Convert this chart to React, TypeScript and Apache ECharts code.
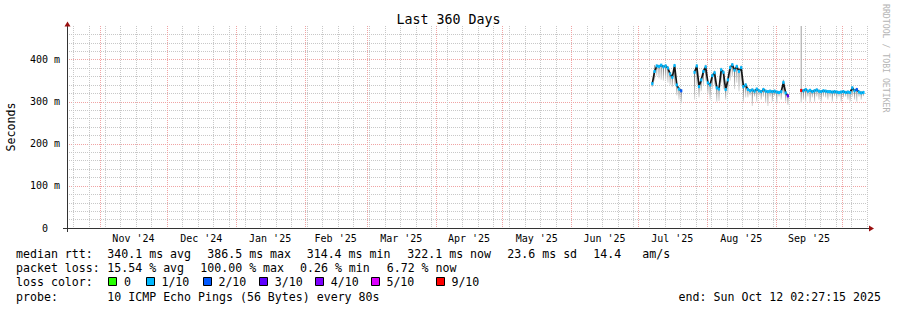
import React, { useEffect, useRef } from 'react';
import * as echarts from 'echarts';

const MONO = '"DejaVu Sans Mono", monospace';
const DAY = 86400000;
const START = Date.UTC(2024, 9, 17, 2, 27, 15);
const END = Date.UTC(2025, 9, 12, 2, 27, 15);
const FIRST_DAY = Date.UTC(2025, 6, 7, 12); // first data bin (Jul 7 2025), one bin per day

const MONTH_NAMES = ['Jan', 'Feb', 'Mar', 'Apr', 'May', 'Jun', 'Jul', 'Aug', 'Sep', 'Oct', 'Nov', 'Dec'];

// median rtt (ms) per day, null = no data
const medianMs: (number | null)[] = [
  343, 372, 385, 384, 387, 383, 385, 380, 366, 358, 386, 340, 330, 326,
  null, null, null, null, null,
  370, 385, 336, 352, 372, 383, 345, 340, 362, 369, 333, 330, 376, 370, 329, 352, 381, 388, 375, 384,
  372, 381, 336, 340, 329, 326, 328, 325, 330, 326, 324, 329, 325, 324, 325, 324, 325, 323, 322, 324,
  346, 321, 314,
  null, null, null, null, null,
  327, 326, 329, 325, 327, 324, 326, 328, 325, 324, 326, 325, 324, 324, 323, 324, 323, 322, 323, 324,
  322, 323, 322, 333, 326, 329, 323, 321, 322,
];

// smoke: lowest ping (ms)
const smokeLowMs: (number | null)[] = [
  335, 350, 362, 355, 352, 350, 352, 345, 340, 335, 340, 315, 305, 296,
  null, null, null, null, null,
  305, 340, 310, 325, 340, 350, 318, 305, 330, 340, 300, 302, 345, 330, 305, 320, 350, 360, 330, 345,
  325, 340, 300, 310, 310, 315, 290, 312, 300, 314, 305, 312, 298, 290, 312, 300, 314, 296, 312, 305,
  318, 300, 292,
  null, null, null, null, null,
  297, 305, 300, 312, 298, 310, 300, 312, 305, 300, 312, 310, 305, 312, 300, 313, 305, 312, 300, 310,
  312, 305, 300, 312, 305, 300, 312, 305, 313,
];

// smoke: highest ping (ms)
const smokeHighMs: (number | null)[] = [
  347, 387, 389, 388, 390, 387, 389, 384, 370, 362, 390, 344, 334, 330,
  null, null, null, null, null,
  375, 390, 341, 357, 377, 388, 350, 345, 367, 374, 338, 335, 381, 375, 334, 357, 386, 392, 380, 388,
  377, 386, 341, 344, 333, 330, 332, 329, 334, 330, 328, 333, 329, 328, 329, 328, 329, 327, 326, 328,
  352, 325, 318,
  null, null, null, null, null,
  480, 330, 333, 329, 331, 328, 330, 332, 329, 328, 330, 329, 328, 328, 327, 328, 327, 326, 327, 328,
  326, 327, 326, 337, 330, 333, 327, 325, 326,
];

// packet loss in tenths
const lossTenths: (number | null)[] = [
  1, 1, 1, 1, 1, 1, 1, 1, 1, 1, 1, 1, 1, 2,
  null, null, null, null, null,
  1, 1, 1, 1, 1, 1, 1, 1, 1, 1, 1, 1, 1, 1, 1, 1, 1, 1, 1, 1,
  1, 1, 1, 1, 1, 1, 1, 1, 1, 1, 1, 1, 1, 1, 1, 1, 1, 1, 1, 1,
  1, 1, 3,
  null, null, null, null, null,
  9, 1, 1, 1, 1, 1, 1, 1, 1, 1, 1, 1, 1, 1, 1, 1, 1, 1, 1, 1,
  1, 1, 1, 1, 1, 2, 1, 1, 1,
];

const lossLevels = ['0', '1/10', '2/10', '3/10', '4/10', '5/10', '9/10'];
const lossLevelValues = [0, 1, 2, 3, 4, 5, 9];
const lossColors: Record<number, string> = {
  0: '#26ff00', 1: '#00b8ff', 2: '#0059ff', 3: '#5e00ff', 4: '#7e00ff', 5: '#dd00ff', 9: '#ff0000',
};

const yTicks = [0, 100, 200, 300, 400];

const statsMedian = ['340.1 ms avg', '386.5 ms max', '314.4 ms min', '322.1 ms now', '23.6 ms sd', '14.4', 'am/s'];
const statsLoss = ['15.54 % avg', '100.00 % max', '0.26 % min', '6.72 % now'];
const probeText = '10 ICMP Echo Pings (56 Bytes) every 80s';
const endText = 'end: Sun Oct 12 02:27:15 2025';

const GRID_GRAY = '#c8c8c8';
const GRID_RED = '#f0a4a4';

function buildOption() {
  const dayTimes = medianMs.map((_, i) => FIRST_DAY + i * DAY);

  // calendar grid
  const gridLines: number[][] = [];
  for (let t = Date.UTC(2024, 9, 18); t <= END; t += DAY) {
    if (new Date(t).getUTCDay() === 0) gridLines.push([t, 0]);
  }
  const monthLabels: string[] = [];
  const monthMid: number[][] = [];
  for (let k = 0; k < 13; k++) {
    const y = 2024 + Math.floor((9 + k) / 12);
    const m = (9 + k) % 12;
    const s = Date.UTC(y, m, 1);
    const e = Date.UTC(m === 11 ? y + 1 : y, (m + 1) % 12, 1);
    if (s > START && s < END) gridLines.push([s, 1]);
    const mid = (s + e) / 2;
    if (mid > START && mid < END) {
      monthMid.push([mid, 0]);
      monthLabels.push(`${MONTH_NAMES[m]} '${String(y).slice(2)}`);
    }
  }

  const smokeData: number[][] = [];
  const tickData: number[][] = [];
  const lineData: any[] = [];
  dayTimes.forEach((t, i) => {
    const md = medianMs[i];
    if (md == null) {
      lineData.push([t, '-']);
      return;
    }
    smokeData.push([t, smokeLowMs[i] as number, md, smokeHighMs[i] as number]);
    tickData.push([t, md, lossTenths[i] as number]);
    lineData.push([t, md]);
  });

  const font = (s: number) => `${s}px ${MONO}`;
  const graphic: any[] = [];
  const txt = (x: number, y: number, text: string, size = 11.6, align = 'left', fill = '#000') =>
    graphic.push({ type: 'text', x, y, silent: true, style: { text, font: font(size), fill, align, verticalAlign: 'middle' } });

  txt(448.5, 19, 'Last 360 Days', 13.3, 'center');
  graphic.push({
    type: 'text', x: 886, y: 4, rotation: -Math.PI / 2, silent: true,
    style: { text: 'RRDTOOL / TOBI OETIKER', font: font(8.2), fill: '#b4b4b4', align: 'left', verticalAlign: 'middle' },
  });
  graphic.push({
    type: 'text', x: 11, y: 127, rotation: Math.PI / 2, silent: true,
    style: { text: 'Seconds', font: font(11.6), fill: '#000', align: 'center', verticalAlign: 'middle' },
  });

  const medX = [107.3, 207.3, 306.7, 407.3, 507.3, 593.3, 642.3];
  txt(16, 254, 'median rtt:');
  statsMedian.forEach((s, i) => txt(medX[i], 254, s));
  const lossX = [107.3, 200.3, 300, 386.7];
  txt(16, 268.3, 'packet loss:');
  statsLoss.forEach((s, i) => txt(lossX[i], 268.3, s));
  const boxX = [108.3, 145.7, 202.7, 259, 315, 370.7, 435.7];
  txt(16, 282.3, 'loss color:');
  lossLevels.forEach((s, i) => {
    graphic.push({
      type: 'rect', silent: true,
      shape: { x: Math.round(boxX[i]) + 0.5, y: 277.5, width: 8, height: 8 },
      style: { fill: lossColors[lossLevelValues[i]], stroke: '#000', lineWidth: 1 },
    });
    txt(boxX[i] + 15.7, 282.3, s);
  });
  txt(16, 296.7, 'probe:');
  txt(107.3, 296.7, probeText);
  txt(881, 296.7, endText, 11.6, 'right');

  return {
    animation: false,
    backgroundColor: '#ffffff',
    grid: { left: 67, right: 30, top: 26, bottom: 82, containLabel: false, outerBoundsMode: 'none' },
    xAxis: { type: 'value', min: START, max: END, show: false },
    yAxis: {
      type: 'value', min: 0, max: 480, interval: 20,
      axisLine: { show: false },
      axisTick: { show: false },
      axisLabel: {
        fontFamily: MONO, fontSize: 10, color: '#000', margin: 7,
        formatter: (v: number) => (yTicks.includes(v) ? (v === 0 ? '0\u00a0\u00a0' : `${v} m`) : ''),
      },
      splitLine: {
        show: true, showMaxLine: false,
        lineStyle: { color: [GRID_RED, GRID_GRAY, GRID_GRAY, GRID_GRAY, GRID_GRAY], type: [1, 1], width: 1 },
      },
    },
    graphic,
    series: [
      {
        type: 'custom', name: 'vgrid', z: 1, silent: true, data: gridLines,
        renderItem: (params: any, api: any) => {
          const cs = params.coordSys;
          const x = Math.round(api.coord([api.value(0), 0])[0]) + 0.5;
          const major = api.value(1) === 1;
          return {
            type: 'line',
            shape: { x1: x, y1: cs.y, x2: x, y2: cs.y + cs.height },
            style: { stroke: major ? GRID_RED : GRID_GRAY, lineWidth: 1, lineDash: [1, 1] },
          };
        },
      },
      {
        type: 'custom', name: 'months', z: 1, silent: true, data: monthMid,
        renderItem: (params: any, api: any) => {
          const cs = params.coordSys;
          const x = api.coord([api.value(0), 0])[0];
          return {
            type: 'text', x, y: cs.y + cs.height + 10,
            style: { text: monthLabels[params.dataIndex], font: font(10), fill: '#000', align: 'center', verticalAlign: 'middle' },
          };
        },
      },
      {
        type: 'custom', name: 'smoke', z: 2, silent: true, data: smokeData,
        renderItem: (params: any, api: any) => {
          const t = api.value(0);
          const lo = api.value(1), md = api.value(2), hi = api.value(3);
          const a = api.coord([t - DAY / 4, hi]);
          const b = api.coord([t + DAY / 4, md]);
          const c = api.coord([t + DAY / 4, lo]);
          return {
            type: 'group',
            children: [
              { type: 'rect', shape: { x: a[0], y: a[1], width: b[0] - a[0], height: b[1] - a[1] }, style: { fill: '#a8a8a8' } },
              {
                type: 'rect', shape: { x: a[0], y: b[1], width: b[0] - a[0], height: c[1] - b[1] },
                style: {
                  fill: new echarts.graphic.LinearGradient(0, 0, 0, 1, [
                    { offset: 0, color: '#747474' },
                    { offset: 1, color: '#dedede' },
                  ]),
                },
              },
            ],
          };
        },
      },
      {
        type: 'line', name: 'median', z: 3, silent: true, data: lineData,
        showSymbol: false, connectNulls: false,
        lineStyle: { color: '#151515', width: 1.7 },
      },
      {
        type: 'custom', name: 'loss', z: 4, silent: true, data: tickData,
        renderItem: (params: any, api: any) => {
          const t = api.value(0);
          const a = api.coord([t - DAY / 2, api.value(1)]);
          const b = api.coord([t + DAY / 2, api.value(1)]);
          return {
            type: 'rect',
            shape: { x: a[0], y: a[1] - 1.5, width: b[0] - a[0], height: 3 },
            style: { fill: lossColors[api.value(2)] },
          };
        },
      },
      {
        type: 'custom', name: 'frame', z: 5, silent: true, data: [[START, 0]],
        renderItem: (params: any) => {
          const cs = params.coordSys;
          const x0 = cs.x, y0 = cs.y + cs.height, x1 = cs.x + cs.width, yt = cs.y;
          return {
            type: 'group',
            children: [
              { type: 'line', shape: { x1: x0 - 4, y1: y0 + 0.5, x2: x1 + 3, y2: y0 + 0.5 }, style: { stroke: '#333', lineWidth: 1 } },
              { type: 'line', shape: { x1: x0 + 0.5, y1: y0 + 4, x2: x0 + 0.5, y2: yt - 1 }, style: { stroke: '#333', lineWidth: 1 } },
              { type: 'polygon', shape: { points: [[x1 + 2, y0 - 2.5], [x1 + 7, y0 + 0.5], [x1 + 2, y0 + 3.5]] }, style: { fill: '#9a1010' } },
              { type: 'polygon', shape: { points: [[x0 - 2.5, yt + 0.5], [x0 + 0.5, yt - 4.5], [x0 + 3.5, yt + 0.5]] }, style: { fill: '#9a1010' } },
            ],
          };
        },
      },
    ],
  };
}

export default function App() {
  const ref = useRef<HTMLDivElement>(null);
  useEffect(() => {
    if (!ref.current) return;
    const chart = echarts.init(ref.current, null, { renderer: 'svg' });
    chart.setOption(buildOption() as any);
    return () => chart.dispose();
  }, []);
  return (
    <div
      ref={ref}
      style={{ position: 'absolute', left: 0, top: 0, width: 897, height: 310, background: '#fff' }}
    />
  );
}
